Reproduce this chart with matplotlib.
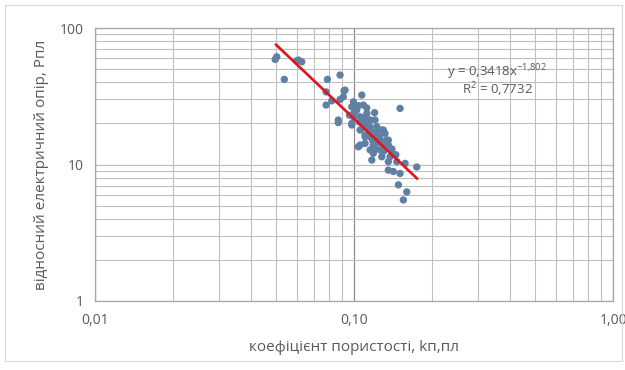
import matplotlib
matplotlib.use("Agg")
import matplotlib.pyplot as plt
import numpy as np
from matplotlib.ticker import FixedLocator, LogLocator, NullFormatter
from matplotlib.patches import Rectangle

# ---- data ----
porosity = [0.0496, 0.0503, 0.0538, 0.0610, 0.0628, 0.0600,
            0.0789, 0.0883, 0.0780, 0.0915, 0.0780, 0.0820, 0.0883, 0.0869, 0.0869,
            0.0923, 0.0909, 0.1071, 0.0994, 0.1086, 0.0980, 0.1024, 0.0994, 0.1055,
            0.1120, 0.1153, 0.1205, 0.1086, 0.1136, 0.1224, 0.1279, 0.1317, 0.1055,
            0.1103, 0.1153, 0.1241, 0.1337, 0.1356, 0.1103, 0.1187, 0.1039, 0.0980,
            0.1505,
            0.0980, 0.1103, 0.1153, 0.1224, 0.1297, 0.1356, 0.1055, 0.1153, 0.1260,
            0.1377, 0.1171, 0.1356, 0.1574, 0.1746, 0.1356, 0.1418, 0.1505, 0.1483,
            0.1598, 0.1550, 0.1187, 0.1279, 0.1462,
            0.1050, 0.1100, 0.1150, 0.1200, 0.1250, 0.1300, 0.1400, 0.1400, 0.1450,
            0.1180, 0.1080, 0.1250, 0.1120, 0.1300, 0.1000, 0.0960, 0.1040, 0.1120,
            0.1200, 0.1330, 0.1270, 0.1160, 0.1080, 0.1210]
resistivity = [59.0, 61.6, 42.1, 58.3, 56.6, 57.5,
               42.1, 45.3, 34.1, 34.7, 27.3, 29.3, 30.0, 21.2, 20.3,
               35.1, 31.4, 32.3, 28.8, 27.3, 26.5, 25.1, 22.4, 22.4,
               23.7, 21.2, 21.2, 20.0, 18.9, 18.9, 17.9, 16.9, 17.9,
               16.4, 16.0, 15.6, 15.1, 13.9, 14.3, 13.9, 13.5, 19.5,
               25.8,
               20.0, 16.0, 16.9, 17.9, 17.9, 15.1, 13.9, 12.8, 12.8,
               11.4, 10.8, 10.5, 10.2, 9.6, 9.1, 8.9, 8.6, 7.1,
               6.3, 5.5, 12.1, 11.4, 10.5,
               20.5, 19.5, 19.0, 16.5, 14.5, 13.5, 13.0, 12.0, 11.8,
               15.0, 18.5, 16.0, 21.5, 12.5, 24.0, 23.0, 27.0, 26.0,
               24.0, 14.0, 15.0, 17.5, 22.0, 13.0]

fit_a = 0.3418
fit_b = -1.802
fit_r2 = 0.7732
fit_range = [0.05, 0.175]

x_ticks = [0.01, 0.1, 1.0]
x_ticklabels = ["0,01", "0,10", "1,00"]
y_ticks = [1, 10, 100]
y_ticklabels = ["1", "10", "100"]

x_label = "коефіцієнт пористості, kп,пл"
y_label = "відносний електричний опір, Рпл"

# ---- figure ----
plt.rcParams['font.family'] = ['Open Sans', 'DejaVu Sans']
plt.rcParams['mathtext.fontset'] = 'custom'
plt.rcParams['mathtext.rm'] = 'Open Sans'
plt.rcParams['mathtext.it'] = 'Open Sans'
fig = plt.figure(figsize=(6.25, 3.7), dpi=100)
fig.patch.set_facecolor('white')
fig.patches.append(Rectangle((0.008, 0.025), 0.987, 0.962, transform=fig.transFigure,
                             fill=False, edgecolor='#D9D9D9', linewidth=0.8))

ax = fig.add_axes([0.152, 0.1865, 0.829, 0.7375])
ax.set_xscale('log')
ax.set_yscale('log')
ax.set_xlim(0.01, 1.0)
ax.set_ylim(1, 100)

grid_c = '#BFBFBF'
ax.xaxis.set_major_locator(FixedLocator(x_ticks))
ax.yaxis.set_major_locator(FixedLocator(y_ticks))
ax.xaxis.set_minor_locator(LogLocator(base=10, subs=np.arange(2, 10)))
ax.yaxis.set_minor_locator(LogLocator(base=10, subs=np.arange(2, 10)))
ax.xaxis.set_minor_formatter(NullFormatter())
ax.yaxis.set_minor_formatter(NullFormatter())
ax.set_xticklabels(x_ticklabels)
ax.set_yticklabels(y_ticklabels)
ax.grid(True, which='minor', color=grid_c, linewidth=0.8)
ax.grid(True, which='major', axis='y', color=grid_c, linewidth=0.9)
ax.grid(True, which='major', axis='x', color='#8C8C8C', linewidth=0.9)
ax.set_axisbelow(True)
ax.tick_params(which='both', length=0)
ax.tick_params(axis='x', pad=9, labelsize=10, labelcolor='#595959')
ax.tick_params(axis='y', pad=8, labelsize=10, labelcolor='#595959')
for s in ax.spines.values():
    s.set_color('#A6A6A6')
    s.set_linewidth(0.9)

ax.scatter(porosity, resistivity, s=28, color='#5F7FA3', edgecolors='none', zorder=3)

xf = np.array(fit_range)
xf = np.logspace(np.log10(xf[0]), np.log10(xf[1]), 50)
ax.plot(xf, fit_a * xf ** fit_b, color='#E0141B', linewidth=1.9, zorder=4)

ax.text(0.776, 0.839, "y = 0,3418x$^{-1{,}802}$", transform=ax.transAxes,
        ha='center', va='center', fontsize=9.5, color='#595959')
ax.text(0.776, 0.773, "R$^{2}$ = 0,7732", transform=ax.transAxes,
        ha='center', va='center', fontsize=9.5, color='#595959')

ax.set_xlabel(x_label, fontsize=11, color='#595959', labelpad=8)
ax.set_ylabel(y_label, fontsize=11, color='#595959', labelpad=8)

fig.savefig('out.png', dpi=100, facecolor='white')
